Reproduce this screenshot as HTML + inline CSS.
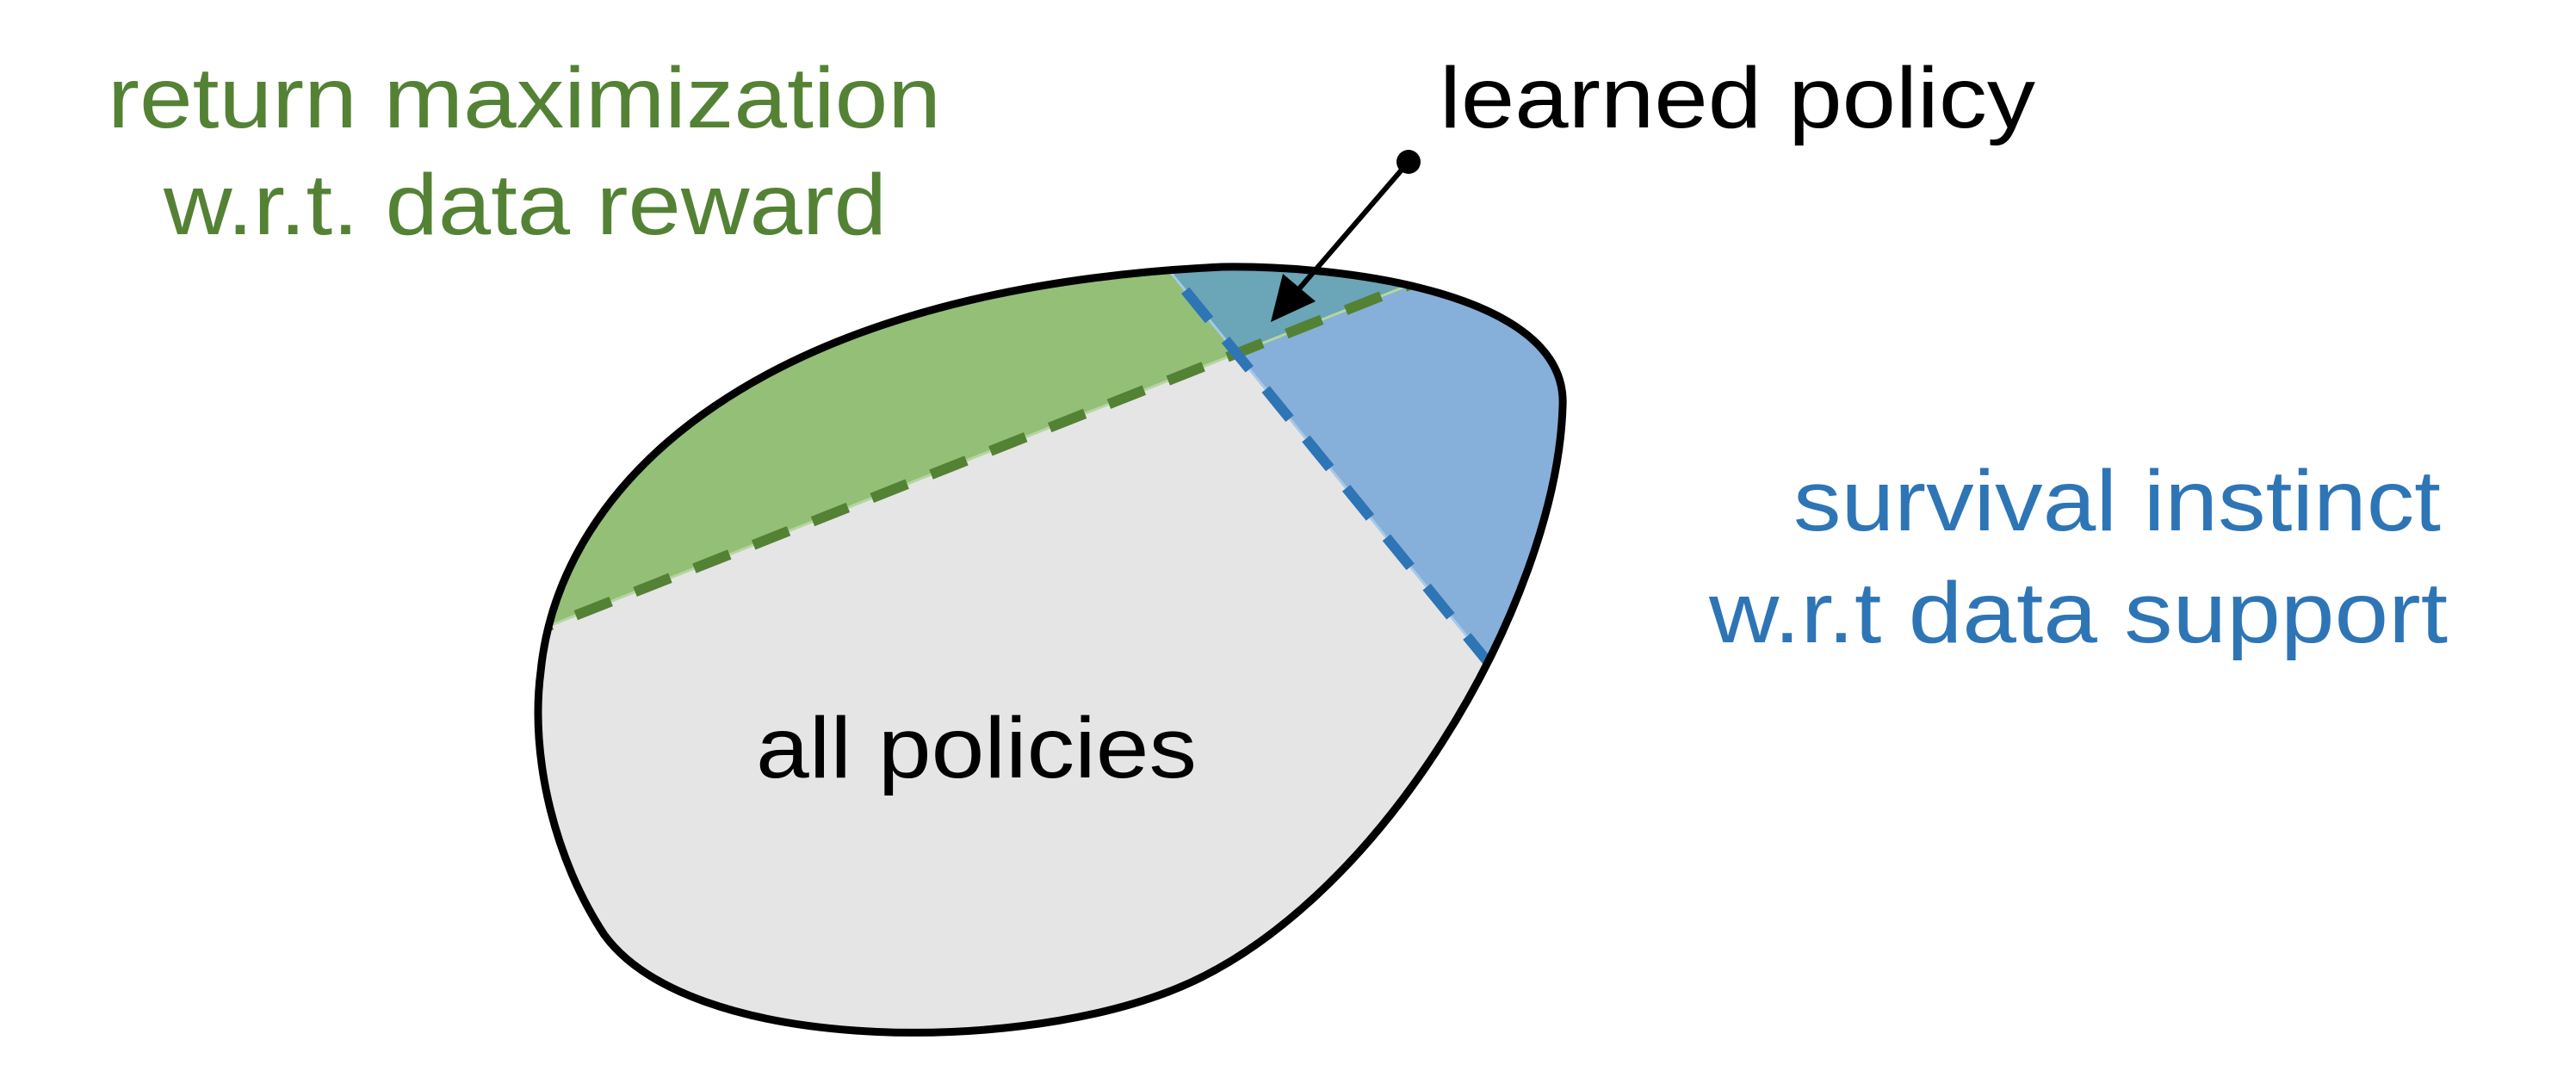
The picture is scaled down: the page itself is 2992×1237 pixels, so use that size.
<!DOCTYPE html>
<html><head><meta charset="utf-8"><style>
html,body{margin:0;padding:0;background:#fff;}
svg{display:block;}
text{font-family:"Liberation Sans",Arial,sans-serif;}
</style></head><body>
<svg width="2992" height="1237" viewBox="0 0 2992 1237">
<defs>
<clipPath id="blobclip"><path d="M1420,310 C1560,308 1822,340 1815,472 C1808,700 1600,1060 1357,1152 C1163,1226 800,1220 702,1086 C645,1000 615,880 628,780 C650,560 880,335 1420,310 Z"/></clipPath>
</defs>
<g clip-path="url(#blobclip)">
<rect x="0" y="0" width="2992" height="1237" fill="#e5e5e5"/>
<polygon points="400,821 2100,148 2100,0 400,0" fill="#93bf76"/>
<polygon points="1199,120 2000,1103 2100,1103 2100,120" fill="#86afd9"/>
<polygon points="1199,120 1436,411 2100,148 2100,0 1199,0" fill="#6aa5b8"/>
<line x1="600" y1="742" x2="1700" y2="306" stroke="#b4d6a0" stroke-width="3"/>
<line x1="600" y1="742" x2="1700" y2="306" stroke="#548235" stroke-width="12" stroke-dasharray="44,30"/>
<line x1="1330" y1="280" x2="1760" y2="808" stroke="#a9c8e6" stroke-width="3"/>
<line x1="1330" y1="280" x2="1760" y2="808" stroke="#2e75b6" stroke-width="12" stroke-dasharray="44,30"/>
</g>
<path d="M1420,310 C1560,308 1822,340 1815,472 C1808,700 1600,1060 1357,1152 C1163,1226 800,1220 702,1086 C645,1000 615,880 628,780 C650,560 880,335 1420,310 Z" fill="none" stroke="#000" stroke-width="9"/>
<g>
<line x1="1636" y1="188" x2="1505" y2="340" stroke="#000" stroke-width="6"/>
<polygon points="1476,374 1490,318 1528,350" fill="#000"/>
<circle cx="1636" cy="188" r="14" fill="#000"/>
</g>
<text x="125" y="148" font-size="100" fill="#548235" textLength="968" lengthAdjust="spacingAndGlyphs">return maximization</text>
<text x="190" y="272" font-size="100" fill="#548235" textLength="840" lengthAdjust="spacingAndGlyphs">w.r.t. data reward</text>
<text x="1672" y="148" font-size="100" fill="#000" textLength="692" lengthAdjust="spacingAndGlyphs">learned policy</text>
<text x="2083" y="616" font-size="100" fill="#2e75b6" textLength="752" lengthAdjust="spacingAndGlyphs">survival instinct</text>
<text x="1985" y="746" font-size="100" fill="#2e75b6" textLength="858" lengthAdjust="spacingAndGlyphs">w.r.t data support</text>
<text x="878" y="903" font-size="100" fill="#000" textLength="512" lengthAdjust="spacingAndGlyphs">all policies</text>
</svg>
</body></html>
